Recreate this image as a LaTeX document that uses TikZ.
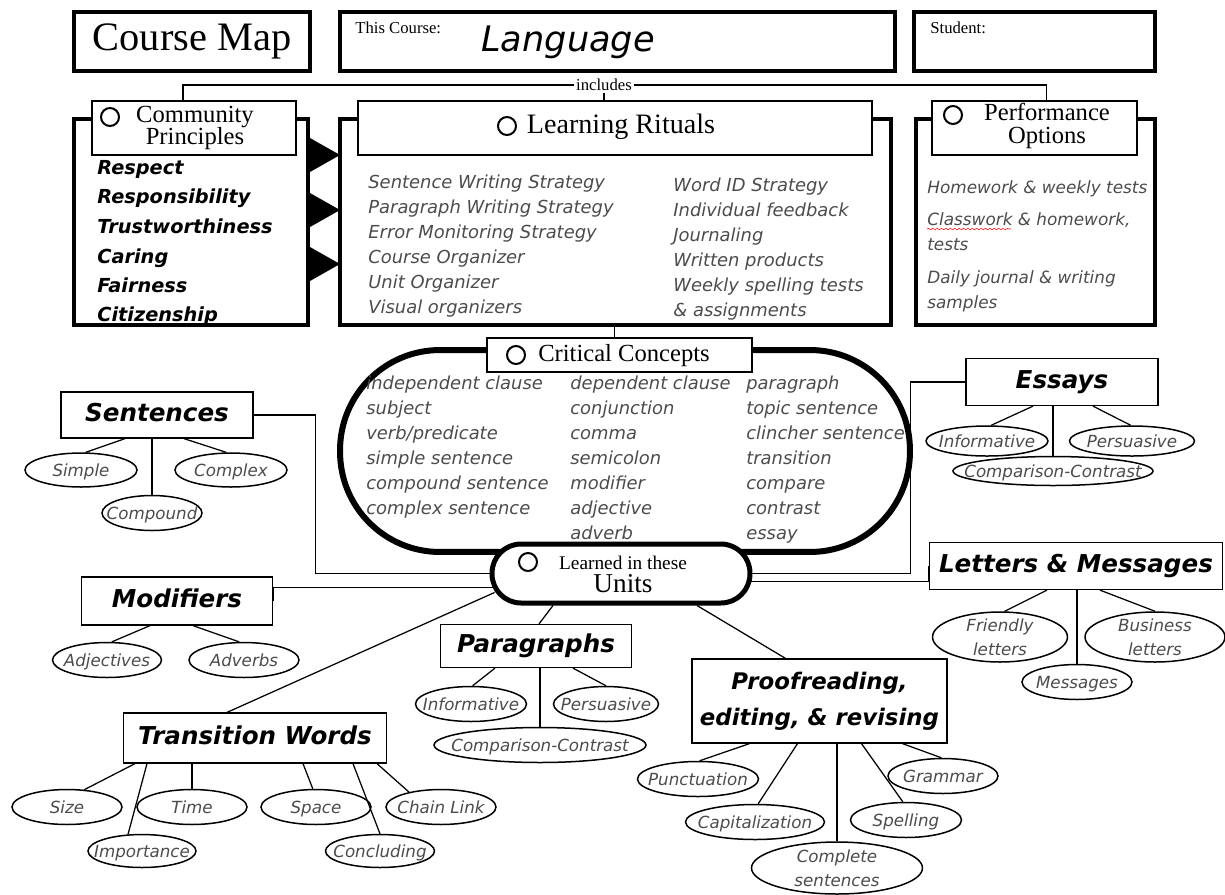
\documentclass[tikz,border=0pt]{standalone}
\usepackage{fontspec}
\setmainfont{Liberation Serif}
\newfontfamily\handfont{DejaVu Sans}
\usepackage{tikz}
\usetikzlibrary{shapes.geometric,calc,decorations.pathmorphing}

\begin{document}
\begin{tikzpicture}[
        x=0.02cm, y=-0.02cm,
        heavybox/.style={
            draw,
            line width=0.09cm
        },
        titlebox/.style={
            draw,
            line width=0.05cm,
            fill=white
        },
        titletext/.style={
            align=center,
            inner sep=0pt,
            font=\fontsize{14}{13}\selectfont
        },
        ring/.style={
            circle,
            draw,
            line width=0.04cm,
            minimum size=0.36cm,
            inner sep=0pt
        },
        unitbox/.style={
            draw,
            fill=white,
            line width=0.025cm,
            align=center,
            inner xsep=0.5pt,
            text height=0.74em,
            text depth=0.02em,
            font=\handfont\bfseries\itshape\fontsize{14}{20}\selectfont
        },
        oval/.style={
            ellipse,
            draw,
            fill=white,
            line width=0.03cm,
            inner xsep=-1cm,
            inner ysep=-0.5cm,
            align=center,
            text height=0.72em,
            text depth=0em,
            text=black!70,
            font=\handfont\itshape\fontsize{9.5}{13.5}\selectfont
        },
        twoline/.style={
            text height={},
            text depth={}
        },
        listitem/.style={
            anchor=base west,
            inner sep=0pt,
            text=black!70,
            font=\handfont\itshape\fontsize{10.2}{12}\selectfont
        },
        value/.style={
            anchor=base west,
            inner sep=0pt,
            font=\handfont\bfseries\itshape\fontsize{11}{13}\selectfont
        },
        link/.style={
            line width=0.025cm
        }
    ]
        \fill[white] (0,0) rectangle (1225,894);
        \useasboundingbox (0,0) rectangle (1225,894);

        % Header
        \node[heavybox, minimum width=4.72cm, minimum height=1.18cm, font=\fontsize{23}{26}\selectfont] (map) at (192,41.5) {Course Map};
        \node[heavybox, minimum width=11.1cm, minimum height=1.18cm] (course) at (617.5,41.5) {};
        \node[anchor=north west, inner sep=0pt, font=\fontsize{9.5}{11}\selectfont] (coursel) at (355,22) {This Course:};
        \node[font=\handfont\itshape\fontsize{20}{24}\selectfont] (lang) at (568,42) {Language};
        \node[heavybox, minimum width=4.82cm, minimum height=1.18cm] (student) at (1034.5,41.5) {};
        \node[anchor=north west, inner sep=0pt, font=\fontsize{9.5}{11}\selectfont] (studentl) at (930,22) {Student:};

        % Outer boxes
        \node[heavybox, minimum width=4.68cm, minimum height=4.12cm] (cp) at (191,222) {};
        \node[heavybox, minimum width=11.02cm, minimum height=4.12cm] (lr) at (615.5,222) {};
        \node[heavybox, minimum width=4.78cm, minimum height=4.12cm] (pf) at (1035.5,222) {};

        % Pointers between the boxes
        \fill (310,138) -- (340,155) -- (310,172) -- cycle;
        \fill (310,193) -- (340,210) -- (310,227) -- cycle;
        \fill (310,247) -- (340,264) -- (310,281) -- cycle;

        % Title boxes
        \node[titlebox, minimum width=4.08cm, minimum height=1.08cm] (cptitle) at (194,128) {};
        \node[ring] (cpring) at (110,117) {};
        \node[titletext] (cptext) at (195,128) {Community\\Principles};

        \node[titlebox, minimum width=10.28cm, minimum height=1.08cm] (lrtitle) at (615,128) {};
        \node[ring] (lrring) at (507,126) {};
        \node[titletext, font=\fontsize{16}{18}\selectfont] (lrtext) at (621,127) {Learning Rituals};

        \node[titlebox, minimum width=4.1cm, minimum height=1.08cm] (pftitle) at (1034.5,128) {};
        \node[ring] (pfring) at (953,115) {};
        \node[titletext] (pftext) at (1047,126) {Performance\\Options};

        % includes
        \node[inner sep=1pt, font=\fontsize{9.5}{11}\selectfont] (incl) at (604,85) {includes};
        \draw[link] (incl.west) -| ($(cptitle.north)+(-11,0)$);
        \draw[link] (incl.east) -| ($(pftitle.north)+(12,0)$);
        \draw[link] (incl.south) -- (incl.south |- lrtitle.north);

        % Community principles
        \node[value] (v1) at (97,174) {Respect};
        \node[value] (v2) at (97,203) {Responsibility};
        \node[value] (v3) at (97,233) {Trustworthiness};
        \node[value] (v4) at (97,263) {Caring};
        \node[value] (v5) at (97,292) {Fairness};
        \node[value] (v6) at (97,321) {Citizenship};

        % Learning rituals
        \node[listitem] (lr1) at (368,188) {Sentence Writing Strategy};
        \node[listitem] (lr2) at (368,213) {Paragraph Writing Strategy};
        \node[listitem] (lr3) at (368,238) {Error Monitoring Strategy};
        \node[listitem] (lr4) at (368,263) {Course Organizer};
        \node[listitem] (lr5) at (368,288) {Unit Organizer};
        \node[listitem] (lr6) at (368,313) {Visual organizers};
        \node[listitem] (lr7) at (673,191) {Word ID Strategy};
        \node[listitem] (lr8) at (673,216) {Individual feedback};
        \node[listitem] (lr9) at (673,241) {Journaling};
        \node[listitem] (lr10) at (673,266) {Written products};
        \node[listitem] (lr11) at (673,291) {Weekly spelling tests};
        \node[listitem] (lr12) at (673,316) {\& assignments};

        % Performance options
        \node[listitem, font=\handfont\itshape\fontsize{9.6}{12}\selectfont] (pf1) at (927,193) {Homework \& weekly tests};
        \node[listitem, font=\handfont\itshape\fontsize{9.6}{12}\selectfont] (pf2) at (927,225) {Classwork \& homework,};
        \node[listitem, font=\handfont\itshape\fontsize{9.6}{12}\selectfont] (pf3) at (927,250) {tests};
        \node[listitem, font=\handfont\itshape\fontsize{9.6}{12}\selectfont] (pf4) at (927,283) {Daily journal \& writing};
        \node[listitem, font=\handfont\itshape\fontsize{9.6}{12}\selectfont] (pf5) at (927,308) {samples};
        \draw[red, line width=0.3pt, decorate, decoration={snake, amplitude=0.4pt, segment length=2.5pt}]
            ($(pf2.base west)+(0,4)$) -- ++(84,0);

        % Critical concepts
        \node[draw, line width=0.12cm, rounded corners=2cm, minimum width=11.4cm, minimum height=4.04cm] (cc) at (625,451) {};
        \node[titlebox, minimum width=5.3cm, minimum height=0.68cm] (cctitle) at (619.5,355) {};
        \node[ring] (ccring) at (516,355) {};
        \node[titletext] (cctext) at (624,356) {Critical Concepts};
        \draw[link] ([xshift=-0.1cm]cctitle.north) -- ([xshift=-0.1cm]cctitle.north |- lr.south);

        \node[listitem] (cc1) at (366,389) {independent clause};
        \node[listitem] (cc2) at (366,414) {subject};
        \node[listitem] (cc3) at (366,439) {verb/predicate};
        \node[listitem] (cc4) at (366,464) {simple sentence};
        \node[listitem] (cc5) at (366,489) {compound sentence};
        \node[listitem] (cc6) at (366,514) {complex sentence};
        \node[listitem] (cc7) at (570,389) {dependent clause};
        \node[listitem] (cc8) at (570,414) {conjunction};
        \node[listitem] (cc9) at (570,439) {comma};
        \node[listitem] (cc10) at (570,464) {semicolon};
        \node[listitem] (cc11) at (570,489) {modifier};
        \node[listitem] (cc12) at (570,514) {adjective};
        \node[listitem] (cc13) at (570,539) {adverb};
        \node[listitem] (cc14) at (746,389) {paragraph};
        \node[listitem] (cc15) at (746,414) {topic sentence};
        \node[listitem] (cc16) at (746,439) {clincher sentence};
        \node[listitem] (cc17) at (746,464) {transition};
        \node[listitem] (cc18) at (746,489) {compare};
        \node[listitem] (cc19) at (746,514) {contrast};
        \node[listitem] (cc20) at (746,539) {essay};

        % Learned in these units
        \node[draw, line width=0.1cm, fill=white, rounded corners=0.58cm, minimum width=5.16cm, minimum height=1.18cm] (units) at (621,573.5) {};
        \node[ring] (unitsring) at (528,562) {};
        \node[align=center, inner sep=0pt, font=\fontsize{11}{13}\selectfont] (unitstext) at (623,574) {Learned in these\\{\fontsize{15.5}{17}\selectfont Units}};

        % Sentences
        \node[unitbox, minimum width=3.84cm, minimum height=0.92cm] (sent) at (157,415) {Sentences};
        \node[oval, minimum width=2.24cm, minimum height=0.68cm] (simple) at (81,470) {Simple};
        \node[oval, minimum width=2.24cm, minimum height=0.68cm] (complex) at (231,470) {Complex};
        \node[oval, minimum width=2cm, minimum height=0.7cm] (compound) at (152,513) {Compound};
        \draw[link] ($(sent.south)+(-32,0)$) -- (simple.75);
        \draw[link] (compound.north) -- (compound.north |- sent.south);
        \draw[link] ($(sent.south)+(27,0)$) -- (complex.105);
        \draw[link] (sent.east) -- ++(62,0) |- (units.west);

        % Essays
        \node[unitbox, minimum width=3.84cm, minimum height=0.94cm] (essays) at (1062,382) {Essays};
        \node[oval, minimum width=2.44cm, minimum height=0.6cm] (einf) at (987,441) {Informative};
        \node[oval, minimum width=2.5cm, minimum height=0.6cm] (epers) at (1132,441) {Persuasive};
        \node[oval, minimum width=4cm, minimum height=0.58cm] (ecomp) at (1053,471) {Comparison-Contrast};
        \draw[link] ($(essays.south)+(-29,0)$) -- (einf.75);
        \draw[link] (ecomp.north) -- (ecomp.north |- essays.south);
        \draw[link] ($(essays.south)+(31,0)$) -- (epers.95);
        \draw[link] (essays.west) -- ++(-55,0) |- (units.east);

        % Letters & Messages
        \node[unitbox, minimum width=5.86cm, minimum height=0.94cm] (letters) at (1076,566) {Letters \& Messages};
        \node[oval, twoline, minimum width=2.7cm, minimum height=1cm] (lfriend) at (1000,637) {Friendly\\letters};
        \node[oval, twoline, minimum width=2.8cm, minimum height=1cm] (lbiz) at (1155,637) {Business\\letters};
        \node[oval, minimum width=2.2cm, minimum height=0.7cm] (lmsg) at (1077,682) {Messages};
        \draw[link] ($(letters.south)+(-29,0)$) -- (lfriend.80);
        \draw[link] (lmsg.north) -- (lmsg.north |- letters.south);
        \draw[link] ($(letters.south)+(24,0)$) -- (lbiz.north);
        \draw[link] ($(units.east)+(-1,8)$) -| (letters.west);

        % Modifiers
        \node[unitbox, minimum width=3.82cm, minimum height=0.96cm] (mods) at (177,601) {Modifiers};
        \node[oval, minimum width=2.18cm, minimum height=0.7cm] (adj) at (107,660) {Adjectives};
        \node[oval, minimum width=2.2cm, minimum height=0.7cm] (adv) at (244,660) {Adverbs};
        \draw[link] ($(mods.south)+(-27,0)$) -- (adj.75);
        \draw[link] ($(mods.south)+(16,0)$) -- (adv.105);
        \draw[link] ($(units.west)+(3,14)$) -| (mods.east);

        % Paragraphs
        \node[unitbox, minimum width=3.82cm, minimum height=0.86cm] (para) at (536,646) {Paragraphs};
        \node[oval, minimum width=2.22cm, minimum height=0.7cm] (pinf) at (471,704) {Informative};
        \node[oval, minimum width=2.1cm, minimum height=0.7cm] (ppers) at (606,704) {Persuasive};
        \node[oval, minimum width=4.24cm, minimum height=0.7cm] (pcomp) at (540,745) {Comparison-Contrast};
        \draw[link] ($(para.south)+(-41,0)$) -- (pinf.85);
        \draw[link] (pcomp.north) -- (pcomp.north |- para.south);
        \draw[link] ($(para.south)+(37,0)$) -- (ppers.north);
        \draw[link] ($(units.south)+(-68,0)$) -- ($(para.north)+(3,0)$);

        % Transition words
        \node[unitbox, minimum width=5.26cm, minimum height=1cm] (trans) at (255,738) {Transition Words};
        \node[oval, minimum width=2.2cm, minimum height=0.7cm] (tsize) at (67,807) {Size};
        \node[oval, minimum width=2.2cm, minimum height=0.7cm] (ttime) at (192,807) {Time};
        \node[oval, minimum width=2.2cm, minimum height=0.7cm] (tspace) at (316,807) {Space};
        \node[oval, minimum width=2.2cm, minimum height=0.7cm] (tchain) at (441,807) {Chain Link};
        \node[oval, minimum width=2.16cm, minimum height=0.66cm] (timp) at (142,851) {Importance};
        \node[oval, minimum width=2.18cm, minimum height=0.66cm] (tconc) at (380,851) {Concluding};
        \draw[link] ($(trans.south)+(-120,0)$) -- (tsize.45);
        \draw[link] ($(trans.south)+(-108,0)$) -- (timp.130);
        \draw[link] (ttime.north) -- (ttime.north |- trans.south);
        \draw[link] ($(trans.south)+(48,0)$) -- (tspace.100);
        \draw[link] ($(trans.south)+(98,0)$) -- (tconc.north);
        \draw[link] ($(trans.south)+(122,0)$) -- (tchain.155);
        \draw[link] ($(units.south west)+(5,-13)$) -- ($(trans.north)+(-28,0)$);

        % Proofreading
        \node[unitbox, twoline, minimum width=5.1cm, minimum height=1.68cm, font=\handfont\bfseries\itshape\fontsize{13}{20.5}\selectfont] (proof) at (819.5,701) {Proofreading,\\editing, \& revising};
        \node[oval, minimum width=2.42cm, minimum height=0.7cm] (prpunc) at (698,779) {Punctuation};
        \node[oval, minimum width=2.78cm, minimum height=0.7cm] (prcap) at (755,822) {Capitalization};
        \node[oval, twoline, minimum width=3.42cm, minimum height=1.04cm] (prcomp) at (837,868) {Complete\\sentences};
        \node[oval, minimum width=2.22cm, minimum height=0.7cm] (prspell) at (906,820) {Spelling};
        \node[oval, minimum width=2.2cm, minimum height=0.7cm] (prgram) at (943,776) {Grammar};
        \draw[link] ($(proof.south)+(-70,0)$) -- (prpunc.85);
        \draw[link] ($(proof.south)+(-22,0)$) -- (prcap.80);
        \draw[link] (prcomp.north) -- (prcomp.north |- proof.south);
        \draw[link] ($(proof.south)+(42,0)$) -- (prspell.100);
        \draw[link] ($(proof.south)+(83,0)$) -- (prgram.95);
        \draw[link] ($(units.south)+(76,0)$) -- ($(proof.north)+(-34,0)$);

    \end{tikzpicture}
\end{document}
